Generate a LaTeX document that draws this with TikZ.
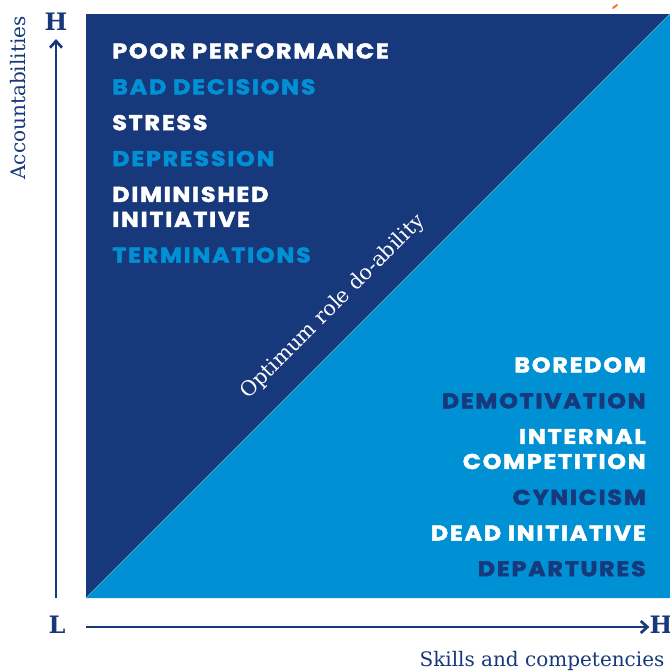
\documentclass[tikz,border=0pt]{standalone}
\usepackage{fontspec}
\setmainfont{DejaVu Serif}
\newfontfamily\blockfont[LetterSpace=8, FakeStretch=1.12, FakeBold=2.2]{Poppins}
\usetikzlibrary{arrows.meta,positioning}

\definecolor{navyblue}{RGB}{23,56,122}
\definecolor{skyblue}{RGB}{0,144,212}
\definecolor{markorange}{RGB}{240,120,40}

\begin{document}
\begin{tikzpicture}[x=0.75pt, y=-0.75pt, node distance=15pt,
    effect/.style={font=\blockfont\bfseries\fontsize{16}{18.75}\selectfont, inner sep=0pt},
    left item/.style={effect, anchor=north west, align=left},
    right item/.style={effect, anchor=north east, align=right},
    axis label/.style={font=\fontsize{15}{18}\selectfont, text=navyblue, inner sep=0pt},
    level/.style={font=\bfseries\fontsize{18}{20}\selectfont, text=navyblue, inner sep=0pt},
    axis/.style={draw=navyblue, line width=2pt, -{Straight Barb[length=5pt, width=9pt, line width=2pt]}}]

    \useasboundingbox (0,0) rectangle (670,671);

    % the two halves of the square
    \fill[navyblue] (86,14) rectangle (670,598);
    \fill[skyblue] (86,598) -- (670,14) -- (670,598) -- cycle;
    \draw[skyblue!60!white, line width=0.3pt] (86,598) -- (670,14);

    \draw[markorange, line width=1.5pt, line cap=round] (613,8) -- (617,5);

    % too much to carry (upper left)
    \node[left item, text=white] (poor) at (112,43) {POOR PERFORMANCE};
    \node (bad) [below=of poor.south west, left item, text=skyblue] {BAD DECISIONS};
    \node (stress) [below=of bad.south west, left item, text=white] {STRESS};
    \node (depr) [below=of stress.south west, left item, text=skyblue] {DEPRESSION};
    \node (dimin) [below=of depr.south west, left item, text=white] {DIMINISHED\\INITIATIVE};
    \node (term) [below=of dimin.south west, left item, text=skyblue] {TERMINATIONS};

    % too little to do (lower right)
    \node[right item, text=white] (bore) at (646,357) {BOREDOM};
    \node (demot) [below=of bore.south east, right item, text=navyblue] {DEMOTIVATION};
    \node (intern) [below=of demot.south east, right item, text=white] {INTERNAL\\COMPETITION};
    \node (cyn) [below=of intern.south east, right item, text=navyblue] {CYNICISM};
    \node (dead) [below=of cyn.south east, right item, text=white] {DEAD INITIATIVE};
    \node (depart) [below=of dead.south east, right item, text=navyblue] {DEPARTURES};

    \node[axis label, text=white, rotate=45, anchor=base, font=\fontsize{15.5}{18}\selectfont] (optimum) at (337,311) {Optimum role do-ability};

    % axes
    \node[level] (yhigh) at (56,22) {H};
    \node[level] (low) at (57,625) {L};
    \node[level] (xhigh) at (661,625) {H};
    \coordinate (yfoot) at (56,598);
    \coordinate (xfoot) at (86,627);
    \draw[axis] (yfoot) -- ([yshift=-6pt]yhigh.south);
    \draw[axis] (xfoot) -- (xfoot -| xhigh.west);

    \node[axis label, rotate=90] (acc) at (18,98) {Accountabilities};
    \node[axis label, anchor=base] (skills) at (542,666) {Skills and competencies};

\end{tikzpicture}
\end{document}
